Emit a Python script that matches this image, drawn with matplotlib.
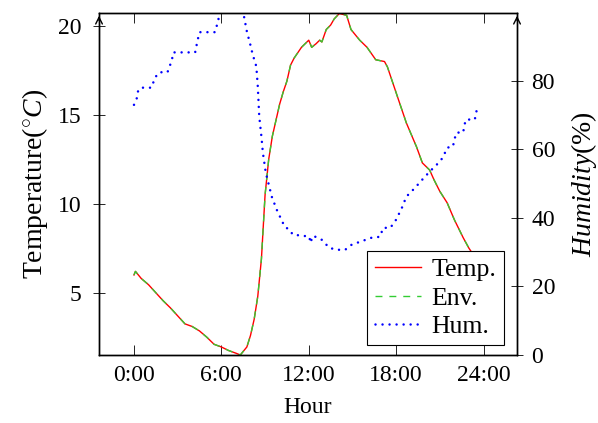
import matplotlib.pyplot as plt
import numpy as np

plt.rcParams['font.family'] = ['Liberation Serif', 'DejaVu Serif']
plt.rcParams['mathtext.fontset'] = 'custom'
plt.rcParams['mathtext.rm'] = 'Liberation Serif'
plt.rcParams['mathtext.it'] = 'Liberation Serif:italic'
plt.rcParams['font.size'] = 17

# temperature (deg C) vs hour
temp_h = [0.0, 0.1, 0.5, 1.0, 1.5, 2.0, 2.5, 3.0, 3.5, 4.0, 4.5, 5.0, 5.5, 6.0, 6.5,
          7.0, 7.3, 7.75, 8.0, 8.25, 8.5, 8.75, 9.0, 9.25, 9.5, 9.75, 10.0, 10.25,
          10.5, 10.75, 11.0, 11.25, 11.5, 11.75, 12.0, 12.2, 12.5, 12.75, 12.9, 13.2,
          13.5, 13.75, 14.1, 14.6, 14.9, 15.5, 16.0, 16.6, 17.2, 17.4, 18.1, 18.7,
          19.4, 19.8, 20.3, 20.6, 21.0, 21.5, 22.0, 22.6, 23.0, 23.5]
temp = [6.0, 6.2, 5.8, 5.45, 5.0, 4.55, 4.15, 3.7, 3.25, 3.1, 2.85, 2.5, 2.1, 1.95, 1.75,
        1.6, 1.5, 1.95, 2.6, 3.5, 4.8, 6.9, 10.5, 12.5, 13.8, 14.7, 15.6, 16.3,
        16.9, 17.8, 18.2, 18.5, 18.8, 19.0, 19.2, 18.8, 19.0, 19.2, 19.1, 19.8,
        20.05, 20.4, 20.7, 20.6, 19.8, 19.2, 18.8, 18.1, 18.0, 17.7, 16.0, 14.55,
        13.2, 12.3, 11.9, 11.35, 10.7, 10.06, 9.1, 8.1, 7.5, 6.9]
env = list(temp)

# humidity (%) vs hour
hum_h = [0.0, 0.2, 0.3, 0.6, 1.2, 1.45, 1.75, 2.3, 2.6, 2.7, 4.2, 4.35, 4.5, 5.55,
         5.75, 5.9, 7.5, 7.75, 7.95, 8.15, 8.4, 8.5, 8.6, 8.75, 8.85, 9.05, 9.46,
         9.8, 10.35, 10.7, 10.9, 11.6, 12.05, 12.1, 12.3, 12.9, 13.4, 13.9, 14.5,
         14.95, 15.5, 16.3, 16.9, 17.1, 17.6, 18.0, 18.4, 18.7, 19.3, 19.8, 20.3,
         20.8, 21.1, 21.3, 21.5, 21.9, 22.0, 22.15, 22.6, 22.7, 22.8, 23.4, 23.5, 23.6]
hum = [73, 75, 77.5, 78, 78, 81, 82.5, 82.5, 86, 88.3, 88.3, 91.5, 94.2, 94.2,
       97, 100, 100, 94.4, 91.2, 87.7, 84.2, 78.4, 69.6, 63.7, 59, 53.2, 46.2,
       42.4, 37.4, 36.5, 35.1, 34.8, 34.5, 32.7, 34.8, 33.6, 31.3, 30.7, 30.7,
       32.2, 33, 34.2, 34.5, 37.1, 37.1, 39.5, 43, 46.2, 48.8, 51.2, 53.5,
       55.6, 57, 58.5, 60.5, 60.8, 62.9, 64.9, 64.9, 67.3, 68.7, 68.7, 70.8, 72.8]

xticks = [0, 6, 12, 18, 24]
xticklabels = ['0:00', '6:00', '12:00', '18:00', '24:00']

fig = plt.figure(figsize=(5.98, 4.23), dpi=100)
ax = fig.add_axes([0.1656, 0.1608, 0.699, 0.8085])
ax2 = ax.twinx()

l1, = ax.plot(temp_h, temp, color='red', lw=1.0, label='Temp.')
l2, = ax.plot(temp_h, env, color='#33cc33', lw=1.0, ls=(0, (5, 5)), label='Env.')
l3, = ax2.plot(hum_h, hum, color='blue', lw=1.8, ls=(0, (0.01, 2.8)),
               dash_capstyle='round', label='Hum.')

ax.set_xlim(-2.4, 26.3)
ax.set_ylim(1.5, 20.73)
ax2.set_ylim(0, 99.8)

ax.set_xticks(xticks)
ax.set_xticklabels(xticklabels)
ax.set_yticks([5, 10, 15, 20])
ax2.set_yticks([0, 20, 40, 60, 80])

ax.tick_params(axis='x', direction='in', length=7, width=0.6, top=True, pad=7)
ax.tick_params(axis='y', direction='inout', length=9, width=0.6, pad=8)
ax2.tick_params(axis='y', direction='inout', length=9, width=0.6, pad=6)

for a in (ax, ax2):
    for s in a.spines.values():
        s.set_linewidth(1.0)

ax.set_xlabel('Hour', labelpad=8)
ax.set_ylabel(r'Temperature($^{\circ}C$)', fontsize=20, labelpad=6)
ax2.set_ylabel(r'$Humidity$(%)', fontsize=20, labelpad=10)

# arrow heads on top of the vertical axes
for xa in (0, 1):
    ax.annotate('', xy=(xa, 1.0), xytext=(xa, 0.97), xycoords='axes fraction',
                arrowprops=dict(arrowstyle='->', lw=1.0, color='black',
                                mutation_scale=12), annotation_clip=False)

ax2.set_zorder(ax.get_zorder() + 1)
leg = ax2.legend([l1, l2, l3], ['Temp.', 'Env.', 'Hum.'], loc='lower right',
                 bbox_to_anchor=(0.969, 0.028), fancybox=False, framealpha=1,
                 edgecolor='black', handlelength=1.8, borderpad=0.3,
                 labelspacing=0.2, handletextpad=0.4, borderaxespad=0,
                 fontsize=18.5)
leg.get_frame().set_linewidth(0.8)

fig.savefig('out.png', dpi=100)
